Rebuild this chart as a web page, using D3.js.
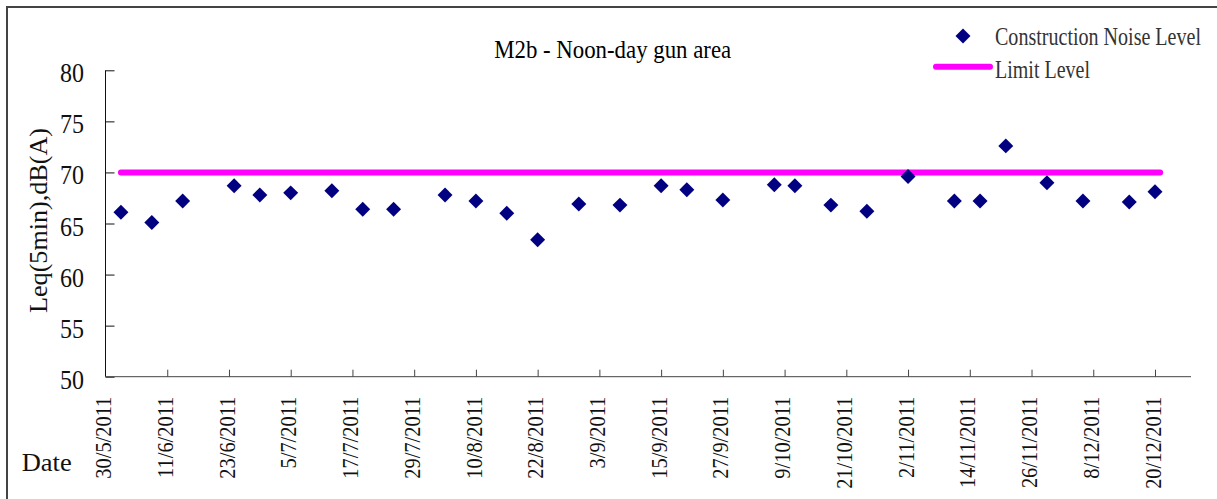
<!DOCTYPE html>
<html lang="en">
<head>
    <meta charset="UTF-8">
    <title>M2b - Noon-day gun area</title>
    <style>
        body {
            margin: 0;
            background-color: #fff;
        }

        svg {
            display: block;
            font-family: "Liberation Serif", "Times New Roman", serif;
        }

        .tick-label {
            fill: #111;
        }
    </style>
</head>
<body>
    <svg id="chart" width="1217" height="499"></svg>

    <script src="https://d3js.org/d3.v7.min.js"></script>
    <script>
        // measurement dates and noise levels
        const dates = ["2/6/2011", "8/6/2011", "14/6/2011", "24/6/2011", "29/6/2011", "5/7/2011",
            "13/7/2011", "19/7/2011", "25/7/2011", "4/8/2011", "10/8/2011", "16/8/2011",
            "22/8/2011", "30/8/2011", "7/9/2011", "15/9/2011", "20/9/2011", "27/9/2011",
            "7/10/2011", "11/10/2011", "18/10/2011", "25/10/2011", "2/11/2011", "11/11/2011",
            "16/11/2011", "21/11/2011", "29/11/2011", "6/12/2011", "15/12/2011", "20/12/2011"];
        const noiseLevels = [66.1, 65.1, 67.2, 68.7, 67.8, 68.0, 68.2, 66.4, 66.4, 67.8, 67.2, 66.0,
            63.4, 66.9, 66.8, 68.7, 68.3, 67.3, 68.8, 68.7, 66.8, 66.2, 69.6, 67.2,
            67.2, 72.6, 69.0, 67.2, 67.1, 68.1];

        const limitDates = ["2/6/2011", "21/12/2011"];
        const limitLevels = [70, 70];

        const xDomain = ["30/5/2011", "27/12/2011"];
        const yTicks = [50, 55, 60, 65, 70, 75, 80];

        const parse = d3.timeParse("%d/%m/%Y");
        const fmt = d3.timeFormat("%-d/%-m/%Y");

        const svg = d3.select("#chart");
        const plotLeft = 105.5, plotRight = 1191, plotTop = 70.3, plotBottom = 376.7;

        // outer frame
        svg.append("rect")
            .attr("x", 7).attr("y", 7)
            .attr("width", 1240).attr("height", 520)
            .attr("fill", "none")
            .attr("stroke", "#444")
            .attr("stroke-width", 2);

        const x = d3.scaleTime()
            .domain(xDomain.map(parse))
            .range([plotLeft, plotRight]);

        const y = d3.scaleLinear()
            .domain([50, 80])
            .range([plotBottom, plotTop]);

        // y axis: ticks inside
        const yAxis = svg.append("g")
            .attr("transform", `translate(${plotLeft},0)`)
            .call(d3.axisRight(y).tickValues(yTicks).tickSize(9).tickFormat(""));
        yAxis.select(".domain").attr("d", `M0,${plotTop}V${plotBottom}`).attr("stroke", "#111");
        yAxis.selectAll(".tick line").attr("stroke", "#111");

        svg.append("g").selectAll("text")
            .data(yTicks)
            .enter().append("text")
            .attr("class", "tick-label")
            .attr("x", 84)
            .attr("y", d => y(d) + 12)
            .attr("text-anchor", "end")
            .attr("font-size", 27)
            .attr("textLength", 24)
            .attr("lengthAdjust", "spacingAndGlyphs")
            .text(d => d);

        // x axis: ticks every 12 days, inside
        const start = parse(xDomain[0]);
        const xTicks = d3.timeDay.range(start, parse(xDomain[1]), 12);
        const xAxis = svg.append("g")
            .attr("transform", `translate(0,${plotBottom})`)
            .call(d3.axisTop(x).tickValues(xTicks.slice(1)).tickSize(7).tickFormat(""));
        xAxis.select(".domain").attr("d", `M${plotLeft},0H${plotRight}`).attr("stroke", "#444");
        xAxis.selectAll(".tick line").attr("stroke", "#444");

        svg.append("g").selectAll("text")
            .data(xTicks)
            .enter().append("text")
            .attr("class", "tick-label")
            .attr("transform", d => `translate(${x(d) + 5.6},396.7) rotate(-90)`)
            .attr("text-anchor", "end")
            .attr("font-size", 24)
            .text(d => fmt(d))
            .each(function () {
                const w = this.getComputedTextLength();
                d3.select(this).attr("textLength", w * 0.85).attr("lengthAdjust", "spacingAndGlyphs");
            });

        // limit line
        const line = d3.line()
            .x(d => x(d[0]))
            .y(d => y(d[1]));
        svg.append("path")
            .datum(limitDates.map((d, i) => [parse(d), limitLevels[i]]))
            .attr("d", line)
            .attr("fill", "none")
            .attr("stroke", "#ff00ff")
            .attr("stroke-width", 6)
            .attr("stroke-linecap", "round");

        // noise points
        const diamond = d3.symbol().type(d3.symbolSquare).size(112);
        svg.append("g").selectAll("path")
            .data(dates.map((d, i) => ({ date: parse(d), value: noiseLevels[i] })))
            .enter().append("path")
            .attr("d", diamond)
            .attr("transform", d => `translate(${x(d.date)},${y(d.value)}) rotate(45)`)
            .attr("fill", "#000080");

        // title
        svg.append("text")
            .attr("x", 612.7).attr("y", 58.3)
            .attr("text-anchor", "middle")
            .attr("font-size", 25)
            .attr("textLength", 237)
            .attr("lengthAdjust", "spacingAndGlyphs")
            .attr("fill", "#000")
            .text("M2b - Noon-day gun area");

        // axis titles
        svg.append("text")
            .attr("transform", "translate(47,220.5) rotate(-90)")
            .attr("text-anchor", "middle")
            .attr("font-size", 26)
            .attr("textLength", 185)
            .attr("lengthAdjust", "spacingAndGlyphs")
            .attr("fill", "#111")
            .text("Leq(5min),dB(A)");

        svg.append("text")
            .attr("x", 21.7).attr("y", 470.5)
            .attr("font-size", 26)
            .attr("textLength", 50)
            .attr("lengthAdjust", "spacingAndGlyphs")
            .attr("fill", "#111")
            .text("Date");

        // legend
        const legend = svg.append("g");
        legend.append("path")
            .attr("d", diamond)
            .attr("transform", "translate(963,36) rotate(45)")
            .attr("fill", "#000080");
        legend.append("text")
            .attr("x", 995).attr("y", 45)
            .attr("font-size", 25)
            .attr("textLength", 206)
            .attr("lengthAdjust", "spacingAndGlyphs")
            .attr("fill", "#333")
            .text("Construction Noise Level");
        legend.append("line")
            .attr("x1", 936).attr("x2", 990)
            .attr("y1", 66.7).attr("y2", 66.7)
            .attr("stroke", "#ff00ff")
            .attr("stroke-width", 6)
            .attr("stroke-linecap", "round");
        legend.append("text")
            .attr("x", 995).attr("y", 78)
            .attr("font-size", 25)
            .attr("textLength", 95)
            .attr("lengthAdjust", "spacingAndGlyphs")
            .attr("fill", "#333")
            .text("Limit Level");
    </script>
</body>
</html>
